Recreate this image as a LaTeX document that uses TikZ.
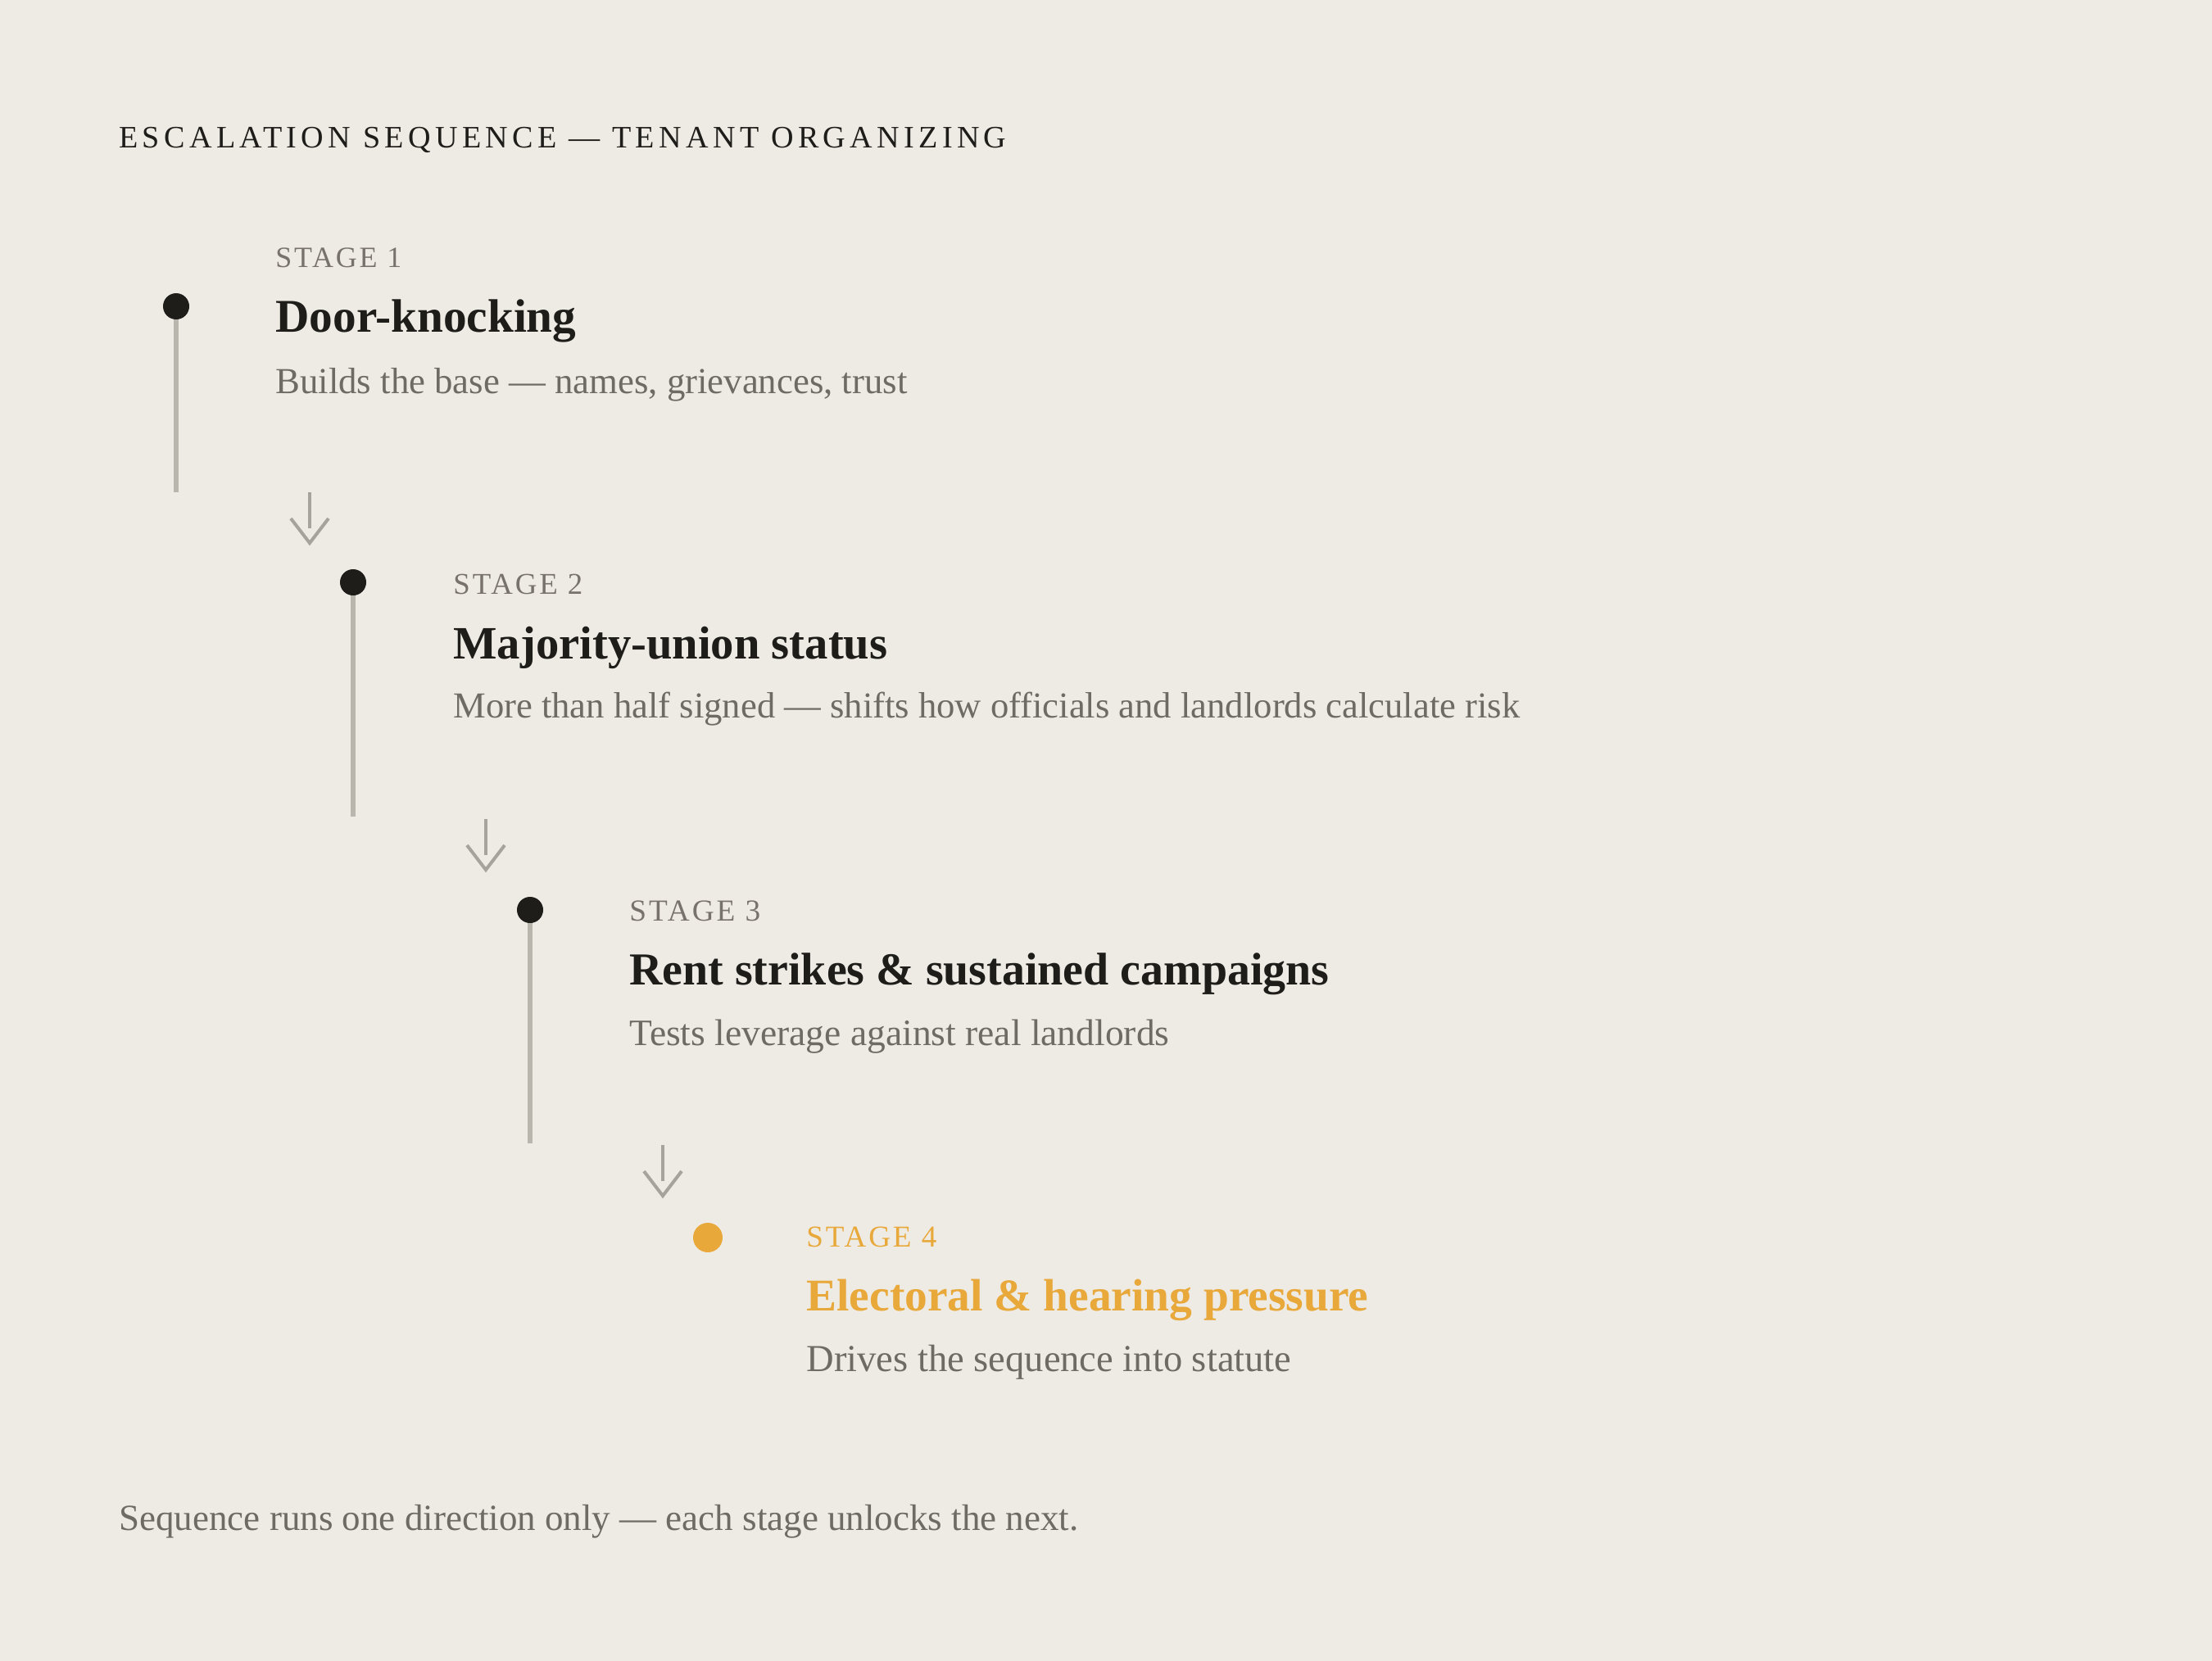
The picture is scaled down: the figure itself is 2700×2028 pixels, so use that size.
\documentclass[tikz,border=0pt]{standalone}
\usepackage{fontspec}
\usepackage{graphicx}
\usetikzlibrary{calc}
\setmainfont{Liberation Serif}
\newfontfamily\spacedfont[LetterSpace=14]{Liberation Serif}
\newfontfamily\labelfont[LetterSpace=8]{Liberation Serif}
\definecolor{bg}{HTML}{EEEBE4}
\definecolor{ink}{HTML}{1E1D1A}
\definecolor{muted}{HTML}{6E6B65}
\definecolor{lab}{HTML}{77736C}
\definecolor{rail}{HTML}{B9B6AE}
\definecolor{arr}{HTML}{A6A39C}
\definecolor{accent}{HTML}{E8A83A}
\newcommand\fitw[2]{\resizebox{#1pt}{!}{#2}}
\tikzset{
  txt/.style={inner sep=0pt, anchor=base west},
  dotdark/.style={circle, fill=ink, inner sep=0pt, minimum size=16pt},
  dotacc/.style={circle, fill=accent, inner sep=0pt, minimum size=18pt},
  railline/.style={draw=rail, line width=2.7pt},
  arrline/.style={draw=arr, line width=2pt, line join=miter},
}
\begin{document}
\begin{tikzpicture}[x=0.5pt,y=-0.5pt]
\fill[bg] (0,0) rectangle (2700,2028);
\useasboundingbox (0,0) rectangle (2700,2028);

\node[txt, text=ink] (head) at (145,181) {\fitw{541.5}{\spacedfont\fontsize{17}{20}\selectfont ESCALATION SEQUENCE — TENANT ORGANIZING}};

% Stage 1
\coordinate (c1) at (215,374);
\coordinate (e1) at (215,601);
\draw[railline] (c1) -- (e1);
\node[dotdark] (d1) at (c1) {};
\node[txt, text=lab] (l1) at (336,327) {\fitw{77}{\labelfont\fontsize{17}{20}\selectfont STAGE 1}};
\node[txt, text=ink] (t1) at (336,406) {\fitw{183.5}{\bfseries\fontsize{27}{30}\selectfont Door-knocking}};
\node[txt, text=muted] (s1) at (336,480) {\fitw{385.5}{\fontsize{20}{24}\selectfont Builds the base — names, grievances, trust}};

% Arrow 1
\coordinate (a1t) at (378,601);
\coordinate (a1b) at (378,663);
\draw[arrline] (a1t) -- (378,645);
\draw[arrline] ($(a1b)+(-23,-30)$) -- (a1b) -- ($(a1b)+(23,-30)$);

% Stage 2
\coordinate (c2) at (431,711);
\coordinate (e2) at (431,997);
\draw[railline] (c2) -- (e2);
\node[dotdark] (d2) at (c2) {};
\node[txt, text=lab] (l2) at (553,725) {\fitw{79}{\labelfont\fontsize{17}{20}\selectfont STAGE 2}};
\node[txt, text=ink] (t2) at (553,804) {\fitw{265}{\bfseries\fontsize{27}{30}\selectfont Majority-union status}};
\node[txt, text=muted] (s2) at (553,876) {\fitw{651}{\fontsize{20}{24}\selectfont More than half signed — shifts how officials and landlords calculate risk}};

% Arrow 2
\coordinate (a2t) at (593,1000);
\coordinate (a2b) at (593,1062);
\draw[arrline] (a2t) -- (593,1044);
\draw[arrline] ($(a2b)+(-23,-30)$) -- (a2b) -- ($(a2b)+(23,-30)$);

% Stage 3
\coordinate (c3) at (647,1111);
\coordinate (e3) at (647,1396);
\draw[railline] (c3) -- (e3);
\node[dotdark] (d3) at (c3) {};
\node[txt, text=lab] (l3) at (768,1124) {\fitw{80}{\labelfont\fontsize{17}{20}\selectfont STAGE 3}};
\node[txt, text=ink] (t3) at (768,1202) {\fitw{427}{\bfseries\fontsize{27}{30}\selectfont Rent strikes \& sustained campaigns}};
\node[txt, text=muted] (s3) at (768,1276) {\fitw{329.5}{\fontsize{20}{24}\selectfont Tests leverage against real landlords}};

% Arrow 3
\coordinate (a3t) at (809,1398);
\coordinate (a3b) at (809,1460);
\draw[arrline] (a3t) -- (809,1442);
\draw[arrline] ($(a3b)+(-23,-30)$) -- (a3b) -- ($(a3b)+(23,-30)$);

% Stage 4
\node[dotacc] (d4) at (864,1511) {};
\node[txt, text=accent] (l4) at (984,1522) {\fitw{79.5}{\labelfont\fontsize{17}{20}\selectfont STAGE 4}};
\node[txt, text=accent] (t4) at (984,1600) {\fitw{343}{\bfseries\fontsize{27}{30}\selectfont Electoral \& hearing pressure}};
\node[txt, text=muted] (s4) at (984,1674) {\fitw{296}{\fontsize{20}{24}\selectfont Drives the sequence into statute}};

\node[txt, text=muted] (foot) at (145,1868) {\fitw{585.5}{\fontsize{20}{24}\selectfont Sequence runs one direction only — each stage unlocks the next.}};
\end{tikzpicture}
\end{document}
